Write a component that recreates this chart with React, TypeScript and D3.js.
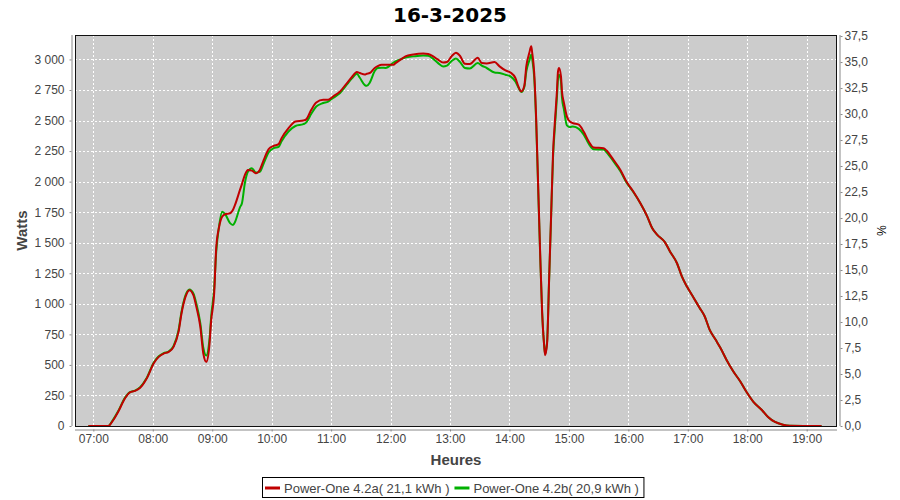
import React, { useEffect, useRef } from "react";
import * as d3 from "d3";

// times of the samples (HH:MM)
const times = [
  "06:55", "07:15", "07:20", "07:25", "07:32", "07:37", "07:42", "07:47", "07:54", "08:01",
  "08:06", "08:11", "08:16", "08:21", "08:26", "08:29", "08:33", "08:37", "08:41", "08:44",
  "08:48", "08:51", "08:54", "08:57", "08:59", "09:02", "09:04", "09:07", "09:10", "09:13",
  "09:18", "09:21", "09:23", "09:28", "09:30", "09:33", "09:36", "09:40", "09:44", "09:48",
  "09:52", "09:57", "10:02", "10:07", "10:10", "10:17", "10:24", "10:32", "10:35", "10:40",
  "10:45", "10:52", "10:57", "11:02", "11:09", "11:16", "11:21", "11:26", "11:29", "11:34",
  "11:36", "11:39", "11:44", "11:47", "11:51", "11:55", "12:03", "12:05", "12:10", "12:15",
  "12:23", "12:33", "12:38", "12:43", "12:48", "12:53", "12:57", "13:02", "13:06", "13:10",
  "13:15", "13:20", "13:28", "13:32", "13:37", "13:45", "13:50", "13:56", "14:01", "14:06",
  "14:09", "14:12", "14:15", "14:17", "14:20", "14:22", "14:23", "14:25", "14:27", "14:29",
  "14:31", "14:33", "14:35", "14:36", "14:38", "14:40", "14:42", "14:44", "14:46", "14:48",
  "14:49", "14:50", "14:52", "14:53", "14:55", "14:58", "15:01", "15:04", "15:10", "15:15",
  "15:20", "15:25", "15:35", "15:38", "15:45", "15:52", "15:58", "16:05", "16:12", "16:19",
  "16:24", "16:29", "16:37", "16:42", "16:49", "16:54", "16:59", "17:06", "17:12", "17:17",
  "17:22", "17:28", "17:33", "17:39", "17:46", "17:53", "17:59", "18:06", "18:15", "18:21",
  "18:28", "18:36", "18:43", "19:15",
];

// Power-One 4.2a (watts)
const powerA = [
  0, 0, 47, 115, 227, 276, 287, 311, 391, 514,
  566, 593, 607, 648, 770, 921, 1057, 1112, 1071, 975,
  811, 593, 525, 648, 866, 1088, 1454, 1631, 1713, 1733,
  1741, 1770, 1809, 1932, 1980, 2055, 2096, 2090, 2069, 2096,
  2178, 2266, 2293, 2307, 2356, 2438, 2492, 2500, 2511, 2588,
  2648, 2670, 2670, 2697, 2738, 2807, 2856, 2897, 2889, 2877,
  2883, 2889, 2930, 2945, 2957, 2957, 2957, 2970, 2998, 3025,
  3041, 3049, 3044, 3025, 2998, 2975, 2979, 3030, 3055, 3030,
  2965, 2962, 3014, 2970, 2967, 2979, 2943, 2910, 2893, 2848,
  2779, 2738, 2784, 2943, 3052, 3107, 3052, 2889, 2506, 1959,
  1414, 925, 661, 579, 677, 1195, 1713, 2235, 2507, 2752,
  2902, 2930, 2861, 2738, 2645, 2532, 2492, 2479, 2466, 2408,
  2328, 2279, 2274, 2254, 2178, 2096, 2001, 1919, 1825, 1716,
  1620, 1566, 1503, 1429, 1334, 1225, 1143, 1048, 966, 898,
  789, 707, 638, 543, 446, 364, 282, 200, 129, 74,
  33, 11, 3, 0,
];

// Power-One 4.2b (watts)
const powerB = [
  0, 0, 52, 120, 232, 278, 290, 316, 395, 520,
  570, 596, 610, 655, 785, 935, 1070, 1118, 1085, 1000,
  840, 640, 577, 690, 900, 1130, 1420, 1640, 1754, 1735,
  1660, 1645, 1670, 1790, 1823, 1990, 2080, 2110, 2075, 2080,
  2150, 2240, 2275, 2285, 2330, 2410, 2455, 2470, 2485, 2555,
  2615, 2643, 2655, 2685, 2725, 2795, 2845, 2883, 2850, 2790,
  2784, 2810, 2905, 2930, 2932, 2930, 2975, 2984, 3000, 3015,
  3025, 3033, 3030, 3005, 2970, 2943, 2950, 2990, 3008, 2980,
  2930, 2926, 2970, 2950, 2930, 2893, 2889, 2875, 2861, 2820,
  2770, 2733, 2775, 2900, 2990, 3039, 3000, 2850, 2480, 1940,
  1400, 930, 665, 590, 690, 1190, 1700, 2200, 2460, 2700,
  2840, 2875, 2820, 2690, 2590, 2460, 2446, 2451, 2432, 2385,
  2310, 2265, 2262, 2240, 2165, 2085, 1995, 1915, 1825, 1716,
  1620, 1566, 1503, 1429, 1334, 1225, 1143, 1048, 966, 898,
  789, 707, 638, 543, 446, 364, 282, 200, 129, 74,
  33, 11, 3, 0,
];

const seriesNames = ["Power-One 4.2a( 21,1 kWh )", "Power-One 4.2b( 20,9 kWh )"];
const seriesColors = ["#c00000", "#00b000"];
const wattTicks = d3.range(0, 3001, 250);
const pctTicks = d3.range(0, 37.6, 2.5);
const hourTicks = ["07:00", "08:00", "09:00", "10:00", "11:00", "12:00", "13:00", "14:00", "15:00", "16:00", "17:00", "18:00", "19:00"];

const App: React.FC = () => {
  const ref = useRef<SVGSVGElement>(null);

  useEffect(() => {
    const width = 900;
    const height = 500;
    const left = 75;
    const right = 837;
    const top = 35;
    const bottom = 426;
    const font = "'Liberation Sans', Arial, sans-serif";
    const labelColor = "#444444";
    const axisColor = "#888888";

    const parse = d3.timeParse("%H:%M:%S");
    const parseHM = d3.timeParse("%H:%M");
    const svg = d3.select(ref.current!);
    svg.selectAll("*").remove();
    svg.attr("width", width).attr("height", height);

    svg.append("rect").attr("width", width).attr("height", height).attr("fill", "#ffffff");

    const x = d3
      .scaleTime()
      .domain([parse("06:41:30") as Date, parse("19:30:36") as Date])
      .range([left, right]);
    const y = d3.scaleLinear().domain([0, 3200]).range([bottom, top]);
    const yPct = d3.scaleLinear().domain([0, 37.6]).range([bottom, top]);

    const loc = d3.formatLocale({
      decimal: ",",
      thousands: "\u00a0",
      grouping: [3],
      currency: ["", ""],
    });

    // plot background
    svg
      .append("rect")
      .attr("x", left)
      .attr("y", top)
      .attr("width", right - left)
      .attr("height", bottom - top)
      .attr("fill", "#cccccc");

    // grid
    const grid = svg.append("g").attr("stroke", "#ffffff").attr("stroke-width", 1).attr("stroke-dasharray", "2,2");
    wattTicks.forEach((v) => {
      if (v === 0) return;
      grid
        .append("line")
        .attr("x1", left)
        .attr("x2", right)
        .attr("y1", Math.round(y(v)) + 0.5)
        .attr("y2", Math.round(y(v)) + 0.5);
    });
    hourTicks.forEach((h) => {
      const xx = Math.round(x(parseHM(h) as Date)) + 0.5;
      grid.append("line").attr("x1", xx).attr("x2", xx).attr("y1", top).attr("y2", bottom);
    });

    // series
    const line = d3
      .line<number>()
      .x((_, i) => x(parseHM(times[i]) as Date))
      .y((d) => y(d))
      .curve(d3.curveMonotoneX);

    const clip = svg.append("clipPath").attr("id", "plotclip");
    clip.append("rect").attr("x", left).attr("y", top).attr("width", right - left).attr("height", bottom - top);

    const plot = svg.append("g").attr("clip-path", "url(#plotclip)");
    [powerB, powerA].forEach((vals, k) => {
      plot
        .append("path")
        .datum(vals)
        .attr("fill", "none")
        .attr("stroke", k === 0 ? seriesColors[1] : seriesColors[0])
        .attr("stroke-width", 2)
        .attr("stroke-linejoin", "round")
        .attr("d", line);
    });

    // plot outline
    svg
      .append("rect")
      .attr("x", left + 0.5)
      .attr("y", top + 0.5)
      .attr("width", right - left - 1)
      .attr("height", bottom - top)
      .attr("fill", "none")
      .attr("stroke", "#111111");

    // left axis
    const yAxis = d3
      .axisLeft(y)
      .tickValues(wattTicks)
      .tickSize(2)
      .tickSizeOuter(0)
      .tickPadding(5)
      .tickFormat((d) => loc.format(",d")(d as number));
    const yg = svg.append("g").attr("transform", `translate(${left - 3.5},0)`).call(yAxis);

    // right axis
    const yrAxis = d3
      .axisRight(yPct)
      .tickValues(pctTicks)
      .tickSize(2)
      .tickSizeOuter(0)
      .tickPadding(2)
      .tickFormat((d) => loc.format(".1f")(d as number));
    const yrg = svg.append("g").attr("transform", `translate(${right + 3.5},0)`).call(yrAxis);

    // bottom axis
    const xAxis = d3
      .axisBottom(x)
      .tickValues(hourTicks.map((h) => parseHM(h) as Date))
      .tickSize(2)
      .tickSizeOuter(0)
      .tickPadding(3)
      .tickFormat((d) => d3.timeFormat("%H:%M")(d as Date));
    const xg = svg.append("g").attr("transform", `translate(0,${bottom + 3.5})`).call(xAxis);

    [yg, yrg, xg].forEach((g) => {
      g.select(".domain").attr("stroke", axisColor);
      g.selectAll(".tick line").attr("stroke", axisColor);
      g.selectAll(".tick text")
        .attr("fill", labelColor)
        .attr("font-family", font)
        .attr("font-size", 12);
    });
    xg.select(".domain").attr("d", `M${left},0.5H${right}`);
    yg.select(".domain").attr("d", `M0.5,${top}V${bottom}`);
    yrg.select(".domain").attr("d", `M-0.5,${top}V${bottom}`);

    // title
    svg
      .append("text")
      .attr("x", 450)
      .attr("y", 22)
      .attr("text-anchor", "middle")
      .attr("font-family", "'DejaVu Sans', sans-serif")
      .attr("font-weight", "bold")
      .attr("font-size", 20)
      .attr("fill", "#000000")
      .text("16-3-2025");

    // axis titles
    svg
      .append("text")
      .attr("transform", `translate(27,${(top + bottom) / 2}) rotate(-90)`)
      .attr("text-anchor", "middle")
      .attr("font-family", font)
      .attr("font-weight", "bold")
      .attr("font-size", 15)
      .attr("fill", labelColor)
      .text("Watts");

    svg
      .append("text")
      .attr("transform", `translate(877,${(top + bottom) / 2}) rotate(90)`)
      .attr("text-anchor", "middle")
      .attr("font-family", font)
      .attr("font-size", 12)
      .attr("fill", "#000000")
      .text("%");

    svg
      .append("text")
      .attr("x", (left + right) / 2)
      .attr("y", 465)
      .attr("text-anchor", "middle")
      .attr("font-family", font)
      .attr("font-weight", "bold")
      .attr("font-size", 15)
      .attr("fill", labelColor)
      .text("Heures");

    // legend
    const lg = svg.append("g");
    const box = lg
      .append("rect")
      .attr("x", 262.5)
      .attr("y", 477.5)
      .attr("height", 20)
      .attr("fill", "#ffffff")
      .attr("stroke", "#000000");
    let lx = 265;
    seriesNames.forEach((name, i) => {
      lg.append("line")
        .attr("x1", lx)
        .attr("x2", lx + 15)
        .attr("y1", 488)
        .attr("y2", 488)
        .attr("stroke", seriesColors[i])
        .attr("stroke-width", 3);
      const t = lg
        .append("text")
        .attr("x", lx + 19)
        .attr("y", 492.5)
        .attr("font-family", font)
        .attr("font-size", 13)
        .attr("fill", labelColor)
        .text(name);
      const w = (t.node() as SVGTextElement).getComputedTextLength();
      lx = lx + 19 + w + 5;
    });
    box.attr("width", lx - 262.5);
  }, []);

  return (
    <div style={{ position: "absolute", left: 0, top: 0 }}>
      <svg ref={ref} style={{ display: "block" }}></svg>
    </div>
  );
};

export default App;
